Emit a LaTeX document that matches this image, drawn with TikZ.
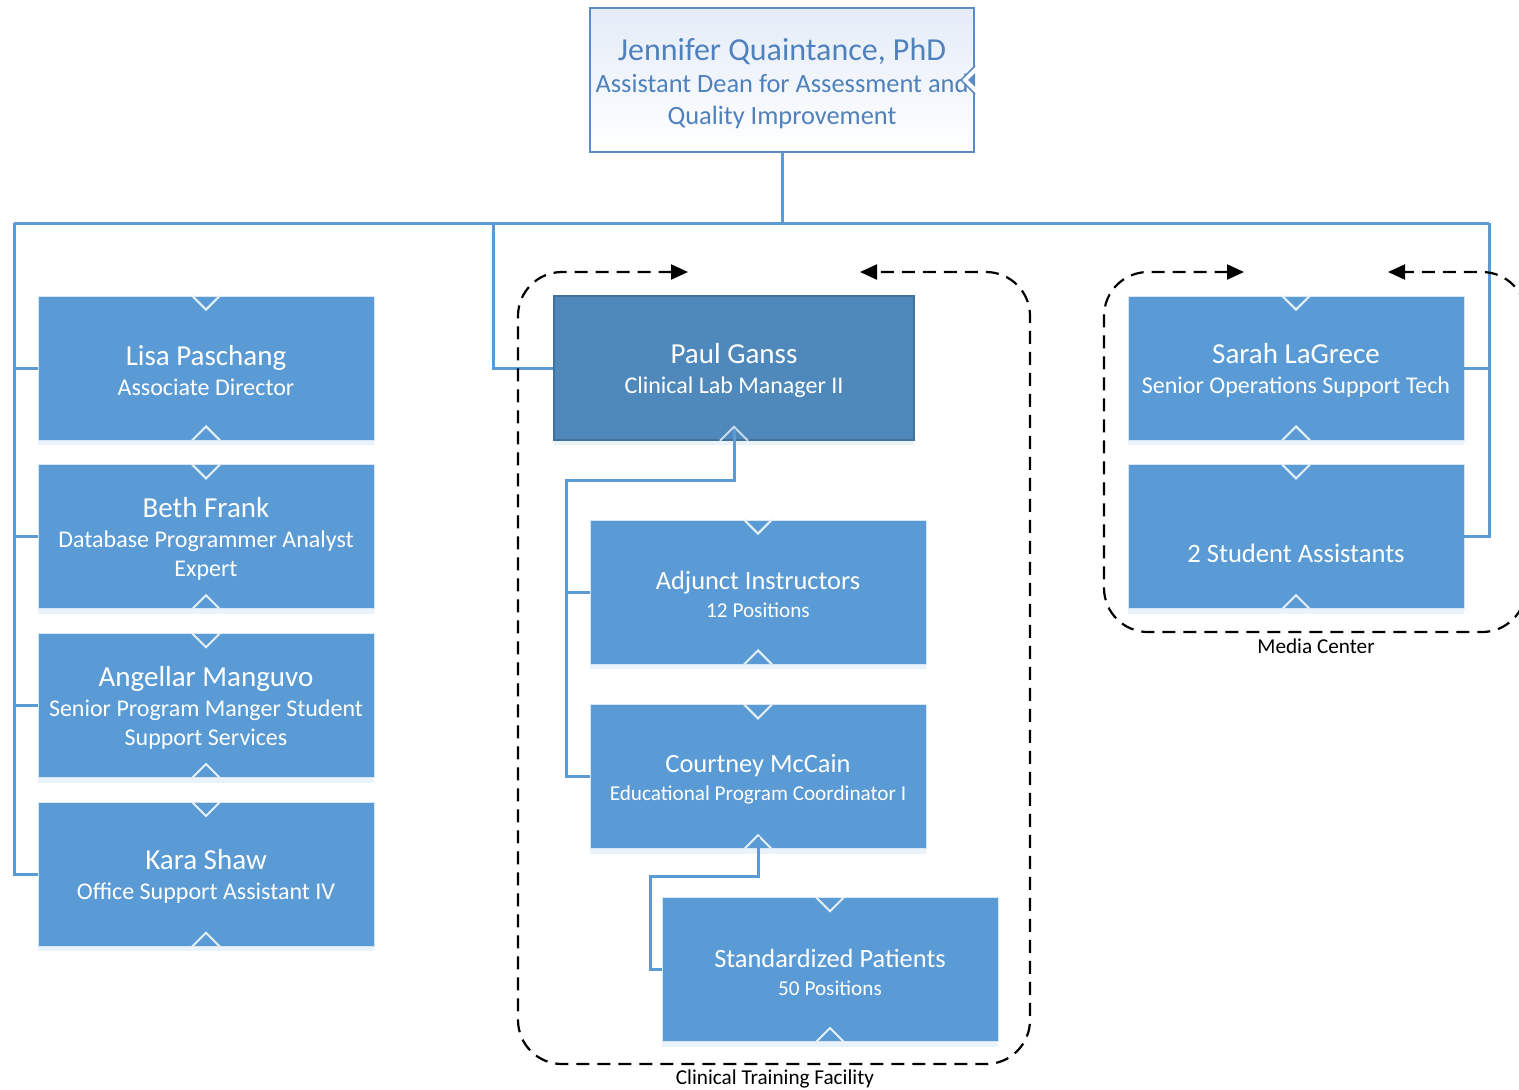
\documentclass[tikz,border=0pt]{standalone}
\usepackage{fontspec}
\setmainfont{Carlito}
\usetikzlibrary{arrows.meta, positioning, shadows}

\definecolor{boxblue}{HTML}{5B9BD5}
\definecolor{leadblue}{HTML}{4F88BB}
\definecolor{leadedge}{HTML}{41719C}
\definecolor{headedge}{HTML}{5B8CC6}
\definecolor{headtext}{HTML}{4F81BD}
\definecolor{headfill}{HTML}{E4ECF8}

\newcommand{\bigname}[1]{{\fontsize{14.5}{16}\selectfont\rule{0pt}{12.5pt}#1}}
\newcommand{\smallname}[1]{{\fontsize{13.2}{14}\selectfont\rule{0pt}{11.5pt}#1}}

\begin{document}
\begin{tikzpicture}[x=0.5pt, y=-0.5pt]

  % Define styles
  \tikzstyle{staff} = [rectangle, fill=boxblue, draw=white!75!boxblue, line width=0.4pt, text=white, align=center, minimum width=168pt, minimum height=72pt, inner sep=0pt, font=\fontsize{12}{14.5}\selectfont, drop shadow={shadow xshift=0pt, shadow yshift=-2.5pt, fill=boxblue, opacity=0.13}]
  \tikzstyle{unit} = [staff, font=\fontsize{10.6}{14}\selectfont]
  \tikzstyle{lead} = [staff, fill=leadblue, draw=leadedge, line width=0.8pt, minimum width=180pt]
  \tikzstyle{head} = [rectangle, draw=headedge, line width=1pt, top color=headfill, bottom color=white, text=headtext, align=center, minimum width=192pt, minimum height=72pt, inner sep=0pt, font=\fontsize{13.2}{16}\selectfont]
  \tikzstyle{link} = [draw=boxblue, line width=1.5pt]
  \tikzstyle{notch} = [draw=white!85!boxblue, line width=1pt]
  \tikzstyle{group} = [draw, line width=1.1pt, dash pattern=on 6.5pt off 4pt, rounded corners=22pt, {Triangle[length=8.5pt,width=7.5pt]}-{Triangle[length=8.5pt,width=7.5pt]}]
  \tikzstyle{caption} = [font=\fontsize{10.6}{12}\selectfont, text=black, inner sep=0pt]

  \useasboundingbox (0,0) rectangle (1519,1089);
  \clip (0,0) rectangle (1519,1089);

  % Dean
  \node[head] (head) at (782,80) {{\fontsize{16}{16}\selectfont\rule{0pt}{15pt}Jennifer Quaintance, PhD}\\Assistant Dean for Assessment and\\Quality Improvement};
  \draw[headedge, line width=0.8pt, fill=white] ([yshift=7pt]head.east) -- ([xshift=-7pt]head.east) -- ([yshift=-7pt]head.east);
  \fill[headedge] ([yshift=3.5pt]head.east) -- ([xshift=-3.5pt]head.east) -- ([yshift=-3.5pt]head.east) -- cycle;

  % Bus
  \coordinate (busL) at (14,223);
  \coordinate (busM) at (493,223);
  \coordinate (busR) at (1489,223);

  % Left column
  \node[staff] (lisa) at (206,368) {\bigname{Lisa Paschang}\\[0.5pt]Associate Director};
  \node[staff, below=12pt of lisa] (beth) {\bigname{Beth Frank}\\[0.5pt]Database Programmer Analyst\\Expert};
  \node[staff, below=12pt of beth] (angellar) {\bigname{Angellar Manguvo}\\[0.5pt]Senior Program Manger Student\\Support Services};
  \node[staff, below=12pt of angellar] (kara) {\bigname{Kara Shaw}\\[0.5pt]Office Support Assistant IV};

  % Clinical Training Facility
  \node[lead] (paul) at (734,368) {\bigname{Paul Ganss}\\[0.5pt]Clinical Lab Manager II};
  \node[unit] (adjunct) at (758,592) {\smallname{Adjunct Instructors}\\12 Positions};
  \node[unit, below=20pt of adjunct] (courtney) {\smallname{Courtney McCain}\\Educational Program Coordinator I};
  \node[unit, below=24pt of courtney, xshift=36pt] (standard) {\smallname{Standardized Patients}\\50 Positions};

  % Media Center
  \node[staff] (sarah) at (1296,368) {\bigname{Sarah LaGrece}\\[0.5pt]Senior Operations Support Tech};
  \node[staff, below=12pt of sarah] (students) {\mbox{}\\[11pt]{\fontsize{13.3}{14}\selectfont 2 Student Assistants}};

  % Notches
  \foreach \n in {lisa,beth,angellar,kara,adjunct,courtney,standard,sarah,students}{
    \draw[notch] ([xshift=-7pt]\n.north) -- ([yshift=-7pt]\n.north) -- ([xshift=7pt]\n.north);
    \draw[notch] ([xshift=-7pt]\n.south) -- ([yshift=7pt]\n.south) -- ([xshift=7pt]\n.south);
  }
  \draw[notch, draw=white!70!leadblue] ([xshift=-7pt]paul.south) -- ([yshift=7pt]paul.south) -- ([xshift=7pt]paul.south);

  % Connections
  \draw[link] (head.south) -- (head.south |- busL);
  \draw[link] (busL) -- (busR);
  \draw[link] (busL) |- (kara.west);
  \foreach \n in {lisa,beth,angellar}
    \draw[link] (busL |- \n.west) -- (\n.west);
  \draw[link] (busM) |- (paul.west);
  \draw[link] (busR) |- (students.east);
  \draw[link] (busR |- sarah.east) -- (sarah.east);

  \coordinate (pv) at (566,480);
  \draw[link] ([yshift=6pt]paul.south) |- (pv) |- (courtney.west);
  \draw[link] (pv |- adjunct.west) -- (adjunct.west);

  \coordinate (cv) at (650,876);
  \draw[link] ([yshift=6pt]courtney.south) |- (cv) |- (standard.west);

  % Groups
  \draw[group] (688,272) -- (518,272) -- (518,1064) -- (1030,1064) -- (1030,272) -- (860,272);
  \node[caption] (ctf) at (775,1079) {Clinical Training Facility};

  \draw[group] (1244,272) -- (1104,272) -- (1104,632) -- (1526,632) -- (1526,272) -- (1388,272);
  \node[caption] (media) at (1316,646) {Media Center};

\end{tikzpicture}
\end{document}
